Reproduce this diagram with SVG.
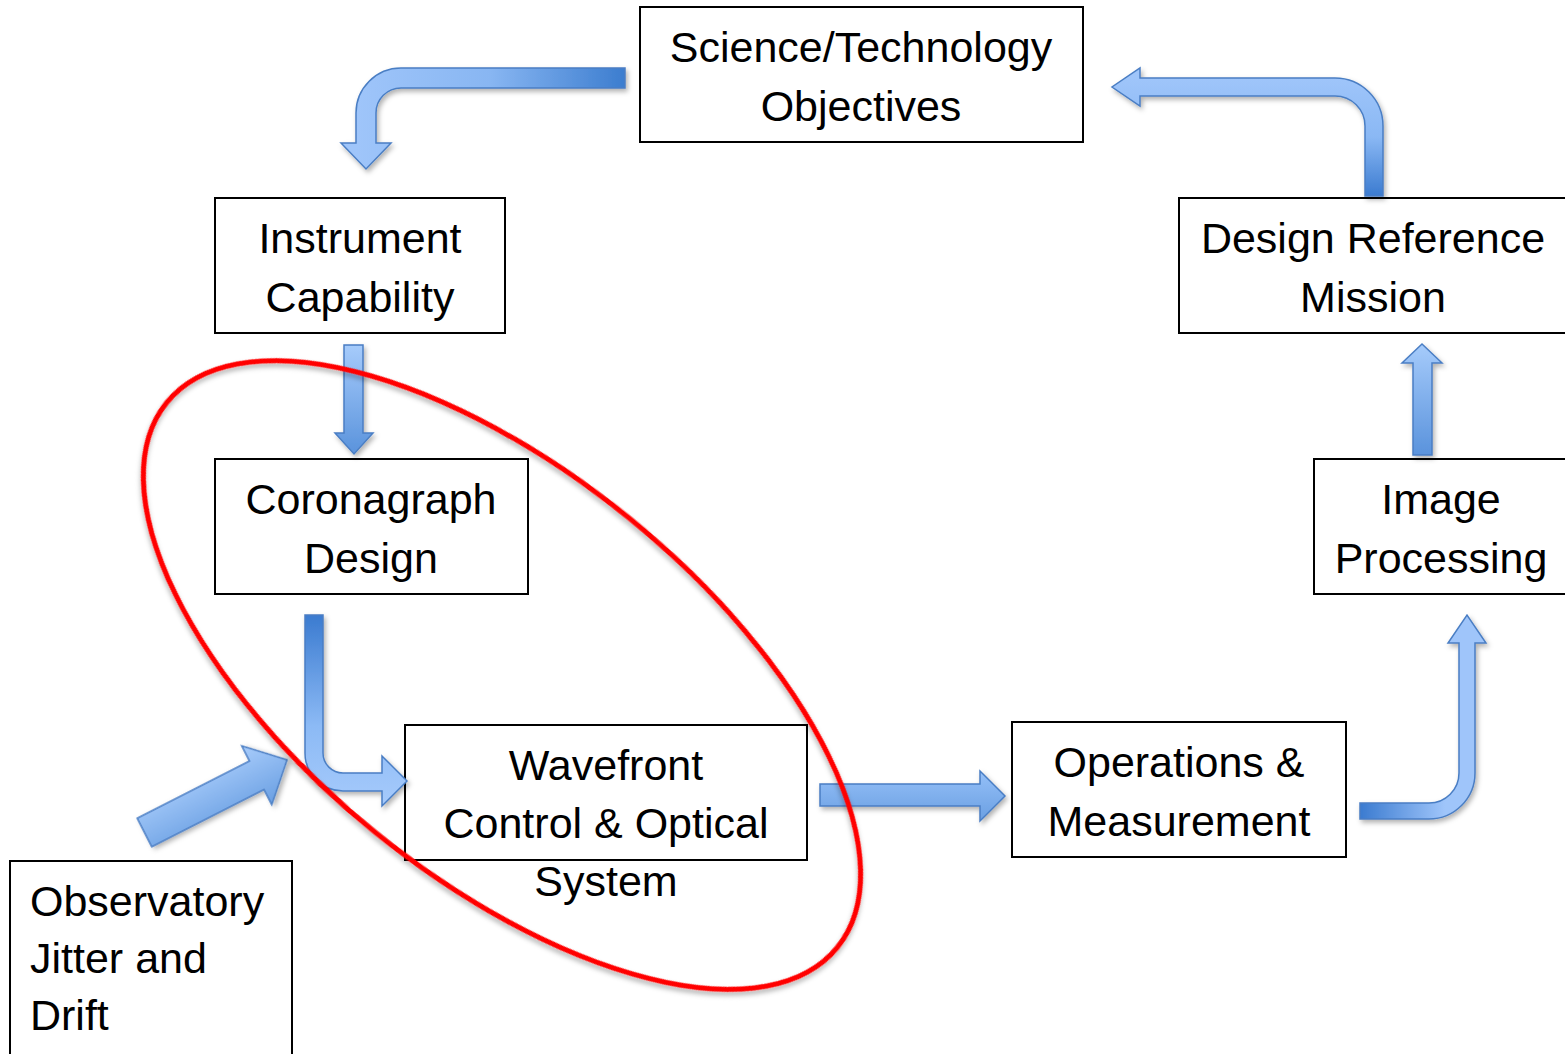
<svg xmlns="http://www.w3.org/2000/svg" width="1565" height="1054" viewBox="0 0 1565 1054">
  <style>
    .box { fill: #ffffff; stroke: #000000; stroke-width: 2; }
    .lbl { font-family: "Liberation Sans", Arial, sans-serif; font-size: 43px; fill: #000000; text-anchor: middle; }
    .lbl-left { text-anchor: start; }
    .arrow { stroke: #4a7ec4; stroke-width: 1.5; stroke-linejoin: miter; filter: url(#shadow); }
    .ring { fill: none; stroke: #ff0000; stroke-width: 5; filter: url(#shadow); }
  </style>
  <defs>
    <filter id="shadow" x="-20%" y="-20%" width="140%" height="140%">
      <feDropShadow dx="2" dy="3" stdDeviation="2.5" flood-color="#000000" flood-opacity="0.3"/>
    </filter>
    <!-- gradients for the block arrows -->
    <linearGradient id="gTopLeft" gradientUnits="userSpaceOnUse" x1="356" y1="0" x2="625" y2="0">
      <stop offset="0" stop-color="#9fc5fa"/>
      <stop offset="0.5" stop-color="#88b6f2"/>
      <stop offset="1" stop-color="#3c7dcf"/>
    </linearGradient>
    <linearGradient id="gTopRight" gradientUnits="userSpaceOnUse" x1="0" y1="78" x2="0" y2="196">
      <stop offset="0" stop-color="#9fc5fa"/>
      <stop offset="0.5" stop-color="#8ab8f4"/>
      <stop offset="1" stop-color="#3b7bd0"/>
    </linearGradient>
    <linearGradient id="gDown" gradientUnits="userSpaceOnUse" x1="0" y1="345" x2="0" y2="454">
      <stop offset="0" stop-color="#a6cbfb"/>
      <stop offset="1" stop-color="#5a93dc"/>
    </linearGradient>
    <linearGradient id="gEll" gradientUnits="userSpaceOnUse" x1="0" y1="615" x2="0" y2="800">
      <stop offset="0" stop-color="#3b7bd0"/>
      <stop offset="0.6" stop-color="#8cbaf5"/>
      <stop offset="1" stop-color="#a4c9fb"/>
    </linearGradient>
    <linearGradient id="gDiag" gradientUnits="userSpaceOnUse" x1="0" y1="-33" x2="0" y2="33">
      <stop offset="0" stop-color="#a8ccfb"/>
      <stop offset="1" stop-color="#6a9fe2"/>
    </linearGradient>
    <linearGradient id="gRight" gradientUnits="userSpaceOnUse" x1="0" y1="771" x2="0" y2="821">
      <stop offset="0" stop-color="#95c0f8"/>
      <stop offset="1" stop-color="#6a9fe2"/>
    </linearGradient>
    <linearGradient id="gHook" gradientUnits="userSpaceOnUse" x1="1360" y1="0" x2="1445" y2="0">
      <stop offset="0" stop-color="#3b7bd0"/>
      <stop offset="1" stop-color="#9fc5fa"/>
    </linearGradient>
    <linearGradient id="gUp" gradientUnits="userSpaceOnUse" x1="0" y1="344" x2="0" y2="455">
      <stop offset="0" stop-color="#a6cbfb"/>
      <stop offset="1" stop-color="#5a93dc"/>
    </linearGradient>
  </defs>

  <!-- nodes -->
  <g id="science-objectives">
    <rect class="box" x="640" y="7" width="443" height="135"/>
    <text class="lbl" x="861" y="62">Science/Technology</text>
    <text class="lbl" x="861" y="121">Objectives</text>
  </g>
  <g id="instrument-capability">
    <rect class="box" x="215" y="198" width="290" height="135"/>
    <text class="lbl" x="360" y="253">Instrument</text>
    <text class="lbl" x="360" y="312">Capability</text>
  </g>
  <g id="coronagraph-design">
    <rect class="box" x="215" y="459" width="313" height="135"/>
    <text class="lbl" x="371" y="514">Coronagraph</text>
    <text class="lbl" x="371" y="573">Design</text>
  </g>
  <g id="wavefront-control">
    <rect class="box" x="405" y="725" width="402" height="135"/>
    <text class="lbl" x="606" y="780">Wavefront</text>
    <text class="lbl" x="606" y="838">Control &amp; Optical</text>
    <text class="lbl" x="606" y="896">System</text>
  </g>
  <g id="operations-measurement">
    <rect class="box" x="1012" y="722" width="334" height="135"/>
    <text class="lbl" x="1179" y="777">Operations &amp;</text>
    <text class="lbl" x="1179" y="836">Measurement</text>
  </g>
  <g id="image-processing">
    <rect class="box" x="1314" y="459" width="270" height="135"/>
    <text class="lbl" x="1441" y="514">Image</text>
    <text class="lbl" x="1441" y="573">Processing</text>
  </g>
  <g id="design-reference-mission">
    <rect class="box" x="1179" y="198" width="400" height="135"/>
    <text class="lbl" x="1373" y="253">Design Reference</text>
    <text class="lbl" x="1373" y="312">Mission</text>
  </g>
  <g id="observatory-jitter">
    <rect class="box" x="10" y="861" width="282" height="210"/>
    <text class="lbl lbl-left" x="30" y="916">Observatory</text>
    <text class="lbl lbl-left" x="30" y="973">Jitter and</text>
    <text class="lbl lbl-left" x="30" y="1030">Drift</text>
  </g>

  <!-- connectors: block arrows -->
  <g id="connectors">
    <path class="arrow" fill="url(#gTopLeft)" d="M625,68 L401,68 A45,45 0 0 0 356,113 L356,143 L341,143 L366,169 L391,143 L376,143 L376,113 A25,25 0 0 1 401,88 L625,88 Z"/>
    <path class="arrow" fill="url(#gTopRight)" d="M1365,196 L1365,126 A30,30 0 0 0 1335,96 L1140,96 L1140,106 L1112,87 L1140,68 L1140,78 L1335,78 A48,48 0 0 1 1383,126 L1383,196 Z"/>
    <path class="arrow" fill="url(#gDown)" d="M344,345 L363,345 L363,433 L373,433 L354,454 L335,433 L344,433 Z"/>
    <path class="arrow" fill="url(#gEll)" d="M305,615 L323,615 L323,753 A20,20 0 0 0 343,773 L382,773 L382,756 L407,781 L382,806 L382,791 L343,791 A38,38 0 0 1 305,753 Z"/>
    <path class="arrow" fill="url(#gDiag)" transform="translate(144.5,832.5) rotate(-27)" d="M0,-16 L126,-16 L126,-33 L160,0 L126,33 L126,16 L0,16 Z"/>
    <path class="arrow" fill="url(#gRight)" d="M820,784 L980,784 L980,771 L1005,796 L980,821 L980,806 L820,806 Z"/>
    <path class="arrow" fill="url(#gHook)" d="M1360,803 L1429,803 A30,30 0 0 0 1459,773 L1459,643 L1448,643 L1467,615 L1486,643 L1475,643 L1475,773 A46,46 0 0 1 1429,819 L1360,819 Z"/>
    <path class="arrow" fill="url(#gUp)" d="M1413,455 L1413,363 L1402,363 L1422,344 L1442,363 L1432,363 L1432,455 Z"/>
  </g>

  <!-- highlight ring around the coronagraph / wavefront group -->
  <ellipse class="ring" cx="502" cy="675" rx="432" ry="202" transform="rotate(39.1 502 675)"/>
</svg>
